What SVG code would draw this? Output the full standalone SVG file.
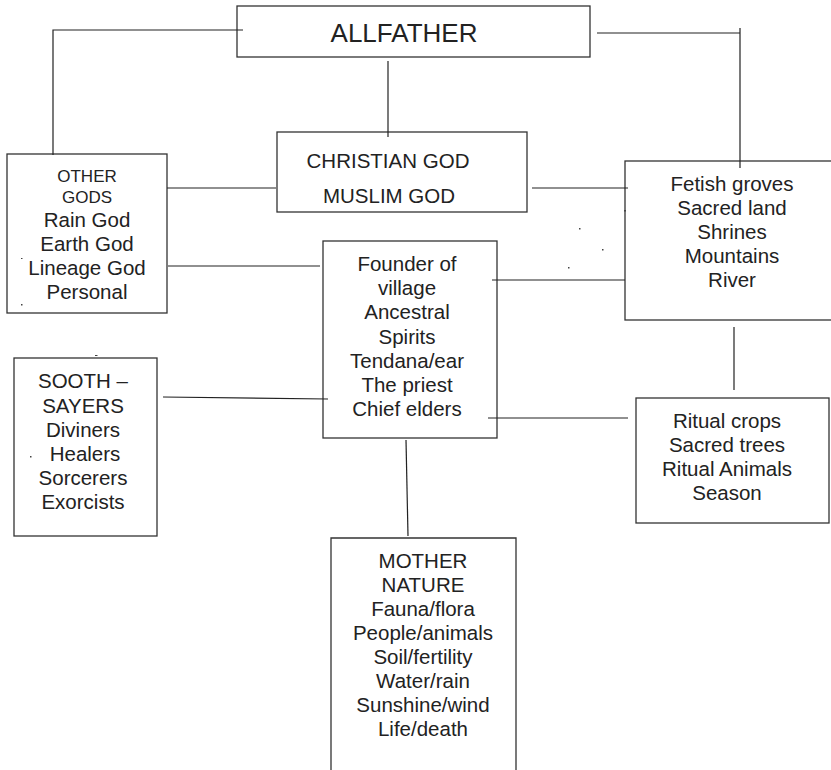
<svg xmlns="http://www.w3.org/2000/svg" width="831" height="770" viewBox="0 0 831 770">
<style>
.box{fill:#fff;stroke:#333;stroke-width:1.3}
.ln{fill:none;stroke:#222;stroke-width:1.2}
.t text{fill:#222;text-anchor:middle;font-size:20.5px}
.t .sm{font-size:17px}
.t .big{font-size:26px}
.dot{fill:#444}
</style>
<rect width="831" height="770" fill="#fff"/>
<g class="t" font-family="'Liberation Sans', Arial, Helvetica, sans-serif">
<g id="allfather">
<rect class="box" x="237" y="6" width="353" height="51"/>
<text class="big" x="404" y="42">ALLFATHER</text>
</g>
<g id="christian-muslim">
<rect class="box" x="277" y="132" width="250" height="80"/>
<text x="388" y="168">CHRISTIAN GOD</text>
<text x="389" y="203">MUSLIM GOD</text>
</g>
<g id="other-gods">
<rect class="box" x="7" y="154" width="160" height="159"/>
<text class="sm" x="87" y="182">OTHER</text>
<text class="sm" x="87" y="203">GODS</text>
<text x="87" y="227">Rain God</text>
<text x="87" y="251">Earth God</text>
<text x="87" y="275">Lineage God</text>
<text x="87" y="299">Personal</text>
</g>
<g id="fetish">
<rect class="box" x="625" y="161" width="210" height="159"/>
<text x="732" y="191">Fetish groves</text>
<text x="732" y="215">Sacred land</text>
<text x="732" y="239">Shrines</text>
<text x="732" y="263">Mountains</text>
<text x="732" y="287">River</text>
</g>
<g id="founder">
<rect class="box" x="323" y="241" width="174" height="197"/>
<text x="407" y="271">Founder of</text>
<text x="407" y="295">village</text>
<text x="407" y="319">Ancestral</text>
<text x="407" y="344">Spirits</text>
<text x="407" y="368">Tendana/ear</text>
<text x="407" y="392">The priest</text>
<text x="407" y="416">Chief elders</text>
</g>
<g id="soothsayers">
<rect class="box" x="14" y="358" width="143" height="178"/>
<text x="83" y="388">SOOTH –</text>
<text x="83" y="413">SAYERS</text>
<text x="83" y="437">Diviners</text>
<text x="85" y="461">Healers</text>
<text x="83" y="485">Sorcerers</text>
<text x="83" y="509">Exorcists</text>
</g>
<g id="ritual">
<rect class="box" x="636" y="398" width="193" height="125"/>
<text x="727" y="428">Ritual crops</text>
<text x="727" y="452">Sacred trees</text>
<text x="727" y="476">Ritual Animals</text>
<text x="727" y="500">Season</text>
</g>
<g id="mother-nature">
<path class="box" d="M331,772 V538 H516 V772"/>
<text x="423" y="568">MOTHER</text>
<text x="423" y="592">NATURE</text>
<text x="423" y="616">Fauna/flora</text>
<text x="423" y="640">People/animals</text>
<text x="423" y="664">Soil/fertility</text>
<text x="423" y="688">Water/rain</text>
<text x="423" y="712">Sunshine/wind</text>
<text x="423" y="736">Life/death</text>
</g>
</g>
<g id="connectors">
<path class="ln" d="M243,30 H53 V155"/>
<path class="ln" d="M597,33 H740 M740,28 V168"/>
<path class="ln" d="M388,61 V137"/>
<path class="ln" d="M167,188 H276"/>
<path class="ln" d="M532,188 H628"/>
<path class="ln" d="M168,266 H320"/>
<path class="ln" d="M492,280 H625"/>
<path class="ln" d="M163,397 L328,399"/>
<path class="ln" d="M488,418 H628"/>
<path class="ln" d="M734,327 V390"/>
<path class="ln" d="M406,440 L408,536"/>
</g>
<g id="specks">
<rect class="dot" x="579" y="228" width="1.5" height="1.5"/>
<rect class="dot" x="602" y="249" width="1.5" height="1.5"/>
<rect class="dot" x="568" y="267" width="1.5" height="1.5"/>
<rect class="dot" x="21" y="258" width="1.5" height="1"/>
<rect class="dot" x="21" y="304" width="1.5" height="1.5"/>
<rect class="dot" x="95" y="355" width="2.5" height="1"/>
<rect class="dot" x="30" y="456" width="1.5" height="1.5"/>
<rect class="dot" x="624" y="210" width="2" height="1.5"/>
</g>
</svg>
